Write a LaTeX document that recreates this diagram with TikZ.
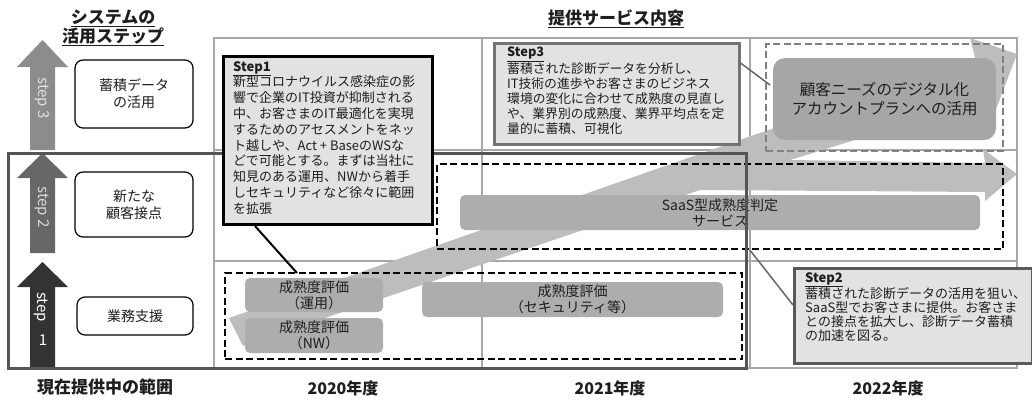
\documentclass[tikz,border=0pt]{standalone}
\usepackage{fontspec}
\setmainfont{Noto Sans CJK JP}
\definecolor{gridgray}{HTML}{A8A8A8}
\definecolor{bandgray}{HTML}{BDBDBD}
\definecolor{boxgray}{HTML}{ADADAD}
\definecolor{needsgray}{HTML}{A6A6A6}
\definecolor{callfill}{HTML}{E2E2E2}
\definecolor{rangegray}{HTML}{555555}
\definecolor{arrowA}{HTML}{8C8C8C}
\definecolor{arrowB}{HTML}{676767}
\definecolor{arrowC}{HTML}{333333}
\definecolor{txt}{HTML}{1E1E1E}
\begin{document}
\begin{tikzpicture}[x=1pt,y=-1pt,
  gridline/.style={draw=gridgray, line width=1.2pt},
  lbox/.style={draw=black, line width=1.2pt, rounded corners=8pt, fill=white, align=center, inner sep=0pt, text=txt, font=\fontsize{14}{17}\selectfont},
  gbox/.style={fill=boxgray, rounded corners=5pt, align=center, inner sep=0pt, text=txt, font=\fontsize{14}{16}\selectfont},
  dbox/.style={draw=#1, dash pattern=on 7pt off 3.5pt, line width=2.2pt, inner sep=0pt, anchor=north west},
  callout/.style={fill=callfill, inner sep=0pt, anchor=north west},
  ctext/.style={anchor=north west, align=left, inner sep=0pt, text=txt},
  steplabel/.style={rotate=-90, text=#1, font=\fontsize{15}{15}\selectfont, inner sep=0pt},
  title/.style={font=\bfseries\fontsize{17}{19}\selectfont, align=center, text=txt},
  year/.style={font=\bfseries\fontsize{16}{19}\selectfont, text=txt},
  pointer/.style={line width=#1}
]
\useasboundingbox (0,0) rectangle (1032,405);

% grid
\draw[gridline] (214,38) rectangle (1017,368);
\draw[gridline] (214,150) -- (1017,150);
\draw[gridline] (214,261) -- (1017,261);
\draw[gridline] (482,38) -- (482,368);
\draw[gridline] (750,38) -- (750,368);

% big gray band arrow
\fill[bandgray] (229,318) -- (975,58) -- (970,38) -- (1017,54) -- (995,112) -- (985,100)
  -- (790,160) -- (985,163) -- (983,149) -- (1017,174) -- (985,201) -- (985,192)
  -- (700,190) -- (243,346) -- cycle;

% dashed boxes
\node[dbox=black, minimum width=517pt, minimum height=86pt] (dlow) at (224,272) {};
\node[dbox=black, minimum width=566pt, minimum height=85pt] (dmid) at (436,163) {};
\node[dbox=gray, minimum width=237pt, minimum height=107pt] (dtop) at (765,43) {};

% gray service boxes
\node[gbox, minimum width=138pt, minimum height=34pt] (ops) at (314,295) {成熟度評価\\（運用）};
\node[gbox, minimum width=138pt, minimum height=35pt] (nw) at (314,335.5) {成熟度評価\\（NW）};
\node[gbox, minimum width=301pt, minimum height=35pt] (sec) at (572.5,299.5) {成熟度評価\\（セキュリティ等）};
\node[gbox, minimum width=520pt, minimum height=35pt] (saas) at (720,212.5) {SaaS型成熟度判定\\サービス};
\node[gbox, fill=needsgray, rounded corners=12pt, minimum width=223pt, minimum height=82pt, font=\fontsize{15.5}{19}\selectfont] (needs) at (884.5,99) {顧客ニーズのデジタル化\\アカウントプランへの活用};

% left step arrows
\fill[arrowA] (30,150) -- (30,67) -- (17,67) -- (42.5,40) -- (68,67) -- (55,67) -- (55,150) -- cycle;
\fill[arrowB] (30,253) -- (30,178) -- (17,178) -- (42.5,153) -- (68,178) -- (55,178) -- (55,253) -- cycle;
\fill[arrowC] (30,369) -- (30,287) -- (17,287) -- (42.5,262) -- (68,287) -- (55,287) -- (55,369) -- cycle;
\node[steplabel=white!88!black] (s3lab) at (42.5,98) {step 3};
\node[steplabel=white!85!black] (s2lab) at (42.5,207) {step 2};
\node[steplabel=white] (s1lab) at (41,307) {step};
\node[text=white, font=\fontsize{15}{15}\selectfont, inner sep=0pt] (s1num) at (43,340) {1};

% left boxes
\node[lbox, minimum width=118pt, minimum height=68pt] (lb3) at (134,94) {蓄積データ\\の活用};
\node[lbox, minimum width=118pt, minimum height=65pt] (lb2) at (134,204.5) {新たな\\顧客接点};
\node[lbox, minimum width=116pt, minimum height=38pt] (lb1) at (135,316) {業務支援};

% current range
\draw[draw=rangegray, line width=3pt] (8,153) rectangle (746,368);

% callouts
\node[callout, draw=black, line width=3pt, minimum width=209pt, minimum height=168pt] (s1box) at (222,55) {};
\node[ctext, font=\fontsize{13}{15.8}\selectfont] (s1txt) at (233,61) {\underline{\textbf{Step1}}\\
新型コロナウイルス感染症の影\\
響で企業のIT投資が抑制される\\
中、お客さまのIT最適化を実現\\
するためのアセスメントをネッ\\
ト越しや、Act + BaseのWSな\\
どで可能とする。まずは当社に\\
知見のある運用、NWから着手\\
しセキュリティなど徐々に範囲\\
を拡張};
\coordinate (p1) at (297,273);
\draw[pointer=2pt, black] ([xshift=33pt]s1box.south west) -- (p1);

\node[callout, draw=black!55, line width=2.5pt, minimum width=245pt, minimum height=101pt] (s3box) at (493,42) {};
\node[ctext, font=\fontsize{12.8}{15}\selectfont] (s3txt) at (507,47) {\underline{\textbf{Step3}}\\
蓄積された診断データを分析し、\\
IT技術の進歩やお客さまのビジネス\\
環境の変化に合わせて成熟度の見直し\\
や、業界別の成熟度、業界平均点を定\\
量的に蓄積、可視化};
\coordinate (p3) at (770,85);
\draw[pointer=1.5pt, black!60] ([yshift=-21pt]s3box.north east) -- (p3);

\node[callout, draw=black!65, line width=2.5pt, minimum width=238pt, minimum height=95pt] (s2box) at (793,267) {};
\node[ctext, font=\fontsize{13}{14}\selectfont] (s2txt) at (805,272) {\underline{\textbf{Step2}}\\
蓄積された診断データの活用を狙い、\\
SaaS型でお客さまに提供。お客さま\\
との接点を拡大し、診断データ蓄積\\
の加速を図る。};
\draw[pointer=1.5pt, black!60] ([xshift=314pt]dmid.south west) -- ([yshift=-38pt]s2box.north west);

% titles
\node[title] (systitle) at (113,28) {\underline{システムの}\\\underline{活用ステップ}};
\node[title] (svctitle) at (616,19) {\underline{提供サービス内容}};
\node[title] (range) at (105,387) {現在提供中の範囲};
\node[year] (y20) at (343,388) {2020年度};
\node[year] (y21) at (610,388) {2021年度};
\node[year] (y22) at (888,388) {2022年度};
\end{tikzpicture}
\end{document}
